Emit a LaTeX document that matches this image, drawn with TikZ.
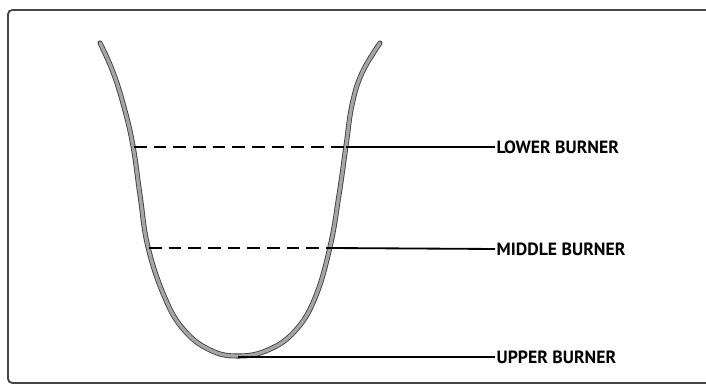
\documentclass[tikz,border=0pt]{standalone}
\usepackage{fontspec}
\setmainfont{PT Sans}
\usepackage{tikz}
\usetikzlibrary{positioning, calc}
\definecolor{cFrame}{RGB}{70,70,70}
\definecolor{cTube}{RGB}{165,165,165}
\definecolor{cEdge}{RGB}{60,60,60}
\tikzset{
	frame/.style    ={line width=1.3pt, cFrame, rounded corners=3pt},
	tube/.style     ={double=cTube, double distance=2.4pt, draw=cEdge, line width=0.6pt, line cap=round},
	levelgap/.style ={line width=1.3pt, dash pattern=on 9pt off 5pt},
	leader/.style   ={line width=1.3pt},
	burner/.style   ={anchor=west, inner sep=1pt, font=\bfseries\fontsize{12.6}{13}\selectfont},
}
\begin{document}
\begin{tikzpicture}[x=0.025cm, y=-0.025cm]
	\useasboundingbox (0,0) rectangle (706,386);
	% frame, open on the right
	\draw[frame] (706,10) -- (8,10) -- (8,383) -- (706,383);
	% the curve
	\draw[tube] plot[smooth, tension=0.7] coordinates {(100,43) (113,72) (124,107) (133,146) (140,195) (148,247) (165,298) (184,330) (210,350) (238,356) (268,350) (295,331) (315,298) (330,247) (339,195) (346,146) (352,105) (362,73) (380,43)};
	% crossing points
	\coordinate (lowL) at (134,147);
	\coordinate (lowR) at (346,147);
	\coordinate (midL) at (149,248);
	\coordinate (midR) at (330,248);
	\coordinate (bot) at (238,357);
	% labels
	\node[burner] (lower) at (495,147) {LOWER BURNER};
	\node[burner] (middle) at (495,249) {MIDDLE BURNER};
	\node[burner] (upper) at (495,357) {UPPER BURNER};
	% leaders
	\draw[levelgap] (lowL) -- (lowR);
	\draw[leader] (lowR) -- (lower.west);
	\draw[levelgap] (midL) -- (midR);
	\draw[leader] (midR) -- (middle.west);
	\draw[leader] (bot) -- (upper.west);
\end{tikzpicture}
\end{document}
